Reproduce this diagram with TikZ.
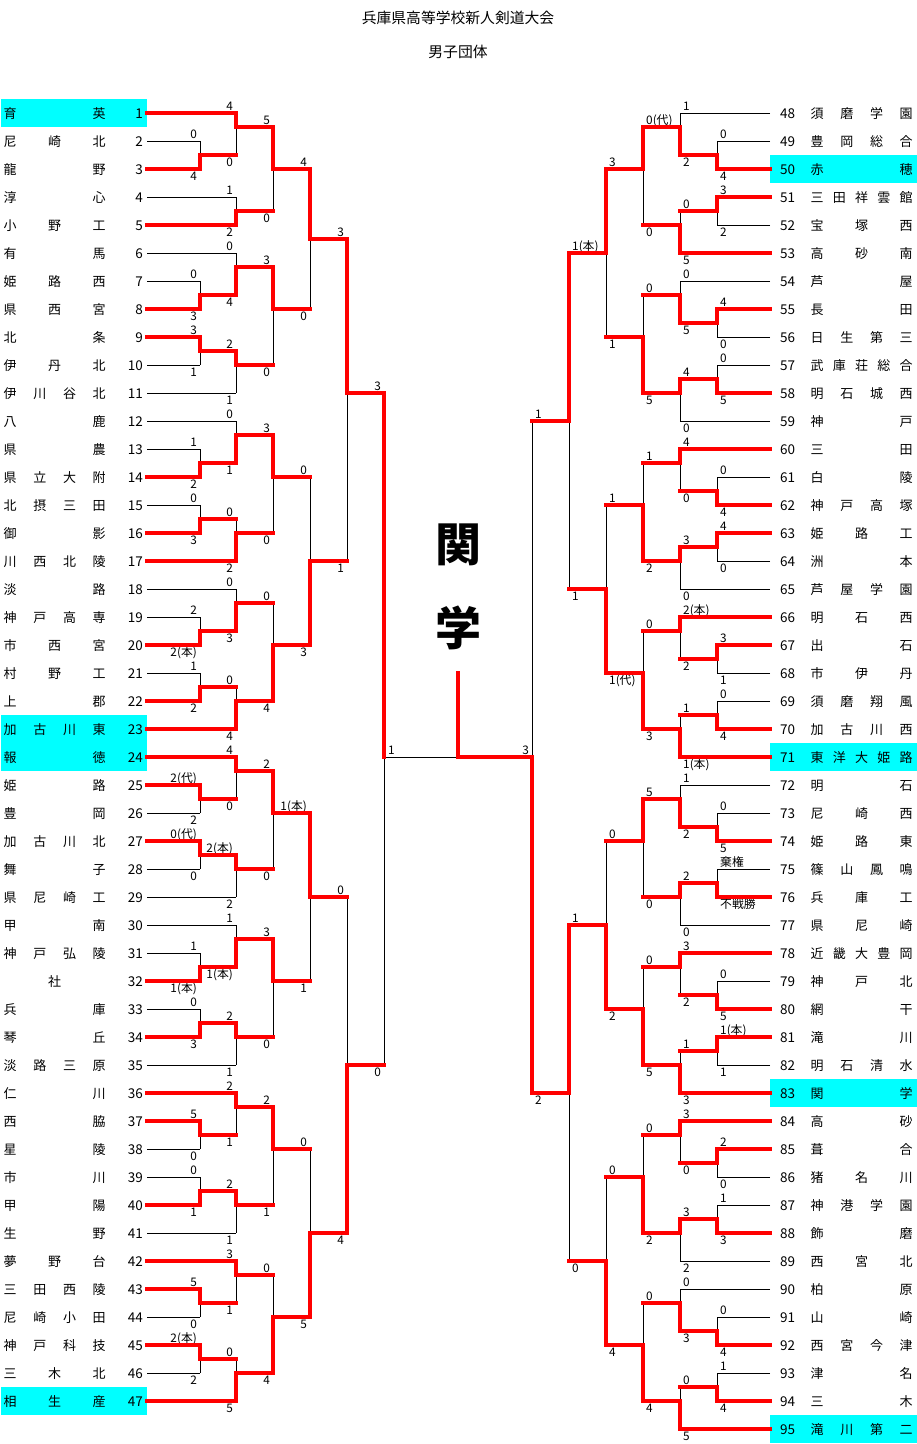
\documentclass[tikz,border=0pt]{standalone}
\usepackage{fontspec}
\setmainfont{Noto Sans CJK JP}
\definecolor{cy}{HTML}{00FFFF}
\tikzset{
  bl/.style={draw=black,line width=1pt},
  rl/.style={draw=red,line width=3.3pt,line cap=rect},
  lab/.style={inner sep=0pt,font=\fontsize{11.8pt}{11.8pt}\selectfont},
  num/.style={inner sep=0pt,font=\fontsize{13.5pt}{13.5pt}\selectfont},
  nm/.style={inner sep=0pt,font=\fontsize{13pt}{13pt}\selectfont},
  ttl/.style={inner sep=0pt,font=\fontsize{14.8pt}{14.8pt}\selectfont},
  big/.style={inner sep=0pt,font=\fontsize{46pt}{46pt}\selectfont\bfseries},
}
\def\mypass{0}
\newcommand\myseg[3]{\ifnum#1=\mypass\relax\ifnum#1=1 \draw[rl] #2 -- #3;\else\draw[bl] #2 -- #3;\fi\fi}
% x, srcU, uU, srcL, uL, junction, winner(0 upper/1 lower), labU, labL
\newcommand\lmatch[9]{%
  \def\mca{1}\def\mcb{1}%
  \ifnum#2=147 \ifnum#7=1 \def\mca{0}\fi\fi
  \ifnum#4=147 \ifnum#7=0 \def\mcb{0}\fi\fi
  \ifnum#7=0 \def\mva{1}\def\mvb{0}\else\def\mva{0}\def\mvb{1}\fi
  \myseg\mca{(#2,{113+14*#3})}{(#1,{113+14*#3})}%
  \myseg\mcb{(#4,{113+14*#5})}{(#1,{113+14*#5})}%
  \myseg\mva{(#1,{113+14*#3})}{(#1,{113+14*#6})}%
  \myseg\mvb{(#1,{113+14*#6})}{(#1,{113+14*#5})}%
  \ifnum\mypass=0
    \node[lab,anchor=base east] at ({#1-3},{113+14*#3-3}) {#8};
    \node[lab,anchor=base east] at ({#1-3},{113+14*#5+11.5}) {#9};
  \fi}
\newcommand\rmatch[9]{%
  \def\mca{1}\def\mcb{1}%
  \ifnum#2=770 \ifnum#7=1 \def\mca{0}\fi\fi
  \ifnum#4=770 \ifnum#7=0 \def\mcb{0}\fi\fi
  \ifnum#7=0 \def\mva{1}\def\mvb{0}\else\def\mva{0}\def\mvb{1}\fi
  \myseg\mca{(#2,{113+14*#3})}{(#1,{113+14*#3})}%
  \myseg\mcb{(#4,{113+14*#5})}{(#1,{113+14*#5})}%
  \myseg\mva{(#1,{113+14*#3})}{(#1,{113+14*#6})}%
  \myseg\mvb{(#1,{113+14*#6})}{(#1,{113+14*#5})}%
  \ifnum\mypass=0
    \node[lab,anchor=base west] at ({#1+3},{113+14*#3-3}) {#8};
    \node[lab,anchor=base west] at ({#1+3},{113+14*#5+11.5}) {#9};
  \fi}
\newcommand\lteam[2]{%
  \node[num,anchor=base east] (n#1) at (143,{113+28*(#1-1)+5}) {#1};
  \node[nm,anchor=base west] (t#1) at (3.5,{113+28*(#1-1)+5}) {\makebox[102pt][s]{#2}};}
\newcommand\rteam[2]{%
  \node[num,anchor=base west] (n#1) at (780,{113+28*(#1-48)+5}) {#1};
  \node[nm,anchor=base west] (t#1) at (810.5,{113+28*(#1-48)+5}) {\makebox[102pt][s]{#2}};}
\newcommand\allmatches{%
\lmatch{200}{147}{2}{147}{4}{3}{1}{0}{4}
\lmatch{236}{147}{0}{200}{3}{1}{0}{4}{0}
\lmatch{236}{147}{6}{147}{8}{7}{1}{1}{2}
\lmatch{273}{236}{1}{236}{7}{4}{0}{5}{0}
\lmatch{200}{147}{12}{147}{14}{13}{1}{0}{3}
\lmatch{236}{147}{10}{200}{13}{11}{1}{0}{4}
\lmatch{200}{147}{16}{147}{18}{17}{0}{3}{1}
\lmatch{236}{200}{17}{147}{20}{18}{0}{2}{1}
\lmatch{273}{236}{11}{236}{18}{14}{0}{3}{0}
\lmatch{310}{273}{4}{273}{14}{9}{0}{4}{0}
\lmatch{200}{147}{24}{147}{26}{25}{1}{1}{2}
\lmatch{236}{147}{22}{200}{25}{23}{1}{0}{1}
\lmatch{200}{147}{28}{147}{30}{29}{1}{0}{3}
\lmatch{236}{200}{29}{147}{32}{30}{1}{0}{2}
\lmatch{273}{236}{23}{236}{30}{26}{0}{3}{0}
\lmatch{200}{147}{36}{147}{38}{37}{1}{2}{2(本)}
\lmatch{236}{147}{34}{200}{37}{35}{1}{0}{3}
\lmatch{200}{147}{40}{147}{42}{41}{1}{1}{2}
\lmatch{236}{200}{41}{147}{44}{42}{1}{0}{4}
\lmatch{273}{236}{35}{236}{42}{38}{1}{0}{4}
\lmatch{310}{273}{26}{273}{38}{32}{1}{0}{3}
\lmatch{347}{310}{9}{310}{32}{20}{0}{3}{1}
\lmatch{200}{147}{48}{147}{50}{49}{0}{2(代)}{2}
\lmatch{236}{147}{46}{200}{49}{47}{0}{4}{0}
\lmatch{200}{147}{52}{147}{54}{53}{0}{0(代)}{0}
\lmatch{236}{200}{53}{147}{56}{54}{0}{2(本)}{2}
\lmatch{273}{236}{47}{236}{54}{50}{0}{2}{0}
\lmatch{200}{147}{60}{147}{62}{61}{1}{1}{1(本)}
\lmatch{236}{147}{58}{200}{61}{59}{1}{1}{1(本)}
\lmatch{200}{147}{64}{147}{66}{65}{1}{0}{3}
\lmatch{236}{200}{65}{147}{68}{66}{0}{2}{1}
\lmatch{273}{236}{59}{236}{66}{62}{0}{3}{0}
\lmatch{310}{273}{50}{273}{62}{56}{0}{1(本)}{1}
\lmatch{200}{147}{72}{147}{74}{73}{0}{5}{0}
\lmatch{236}{147}{70}{200}{73}{71}{0}{2}{1}
\lmatch{200}{147}{76}{147}{78}{77}{1}{0}{1}
\lmatch{236}{200}{77}{147}{80}{78}{0}{2}{1}
\lmatch{273}{236}{71}{236}{78}{74}{0}{2}{1}
\lmatch{200}{147}{84}{147}{86}{85}{0}{5}{0}
\lmatch{236}{147}{82}{200}{85}{83}{0}{3}{1}
\lmatch{200}{147}{88}{147}{90}{89}{0}{2(本)}{2}
\lmatch{236}{200}{89}{147}{92}{90}{1}{0}{5}
\lmatch{273}{236}{83}{236}{90}{86}{1}{0}{4}
\lmatch{310}{273}{74}{273}{86}{80}{1}{0}{5}
\lmatch{347}{310}{56}{310}{80}{68}{1}{0}{4}
\lmatch{384}{347}{20}{347}{68}{46}{0}{3}{0}
\rmatch{717}{770}{2}{770}{4}{3}{1}{0}{4}
\rmatch{680}{770}{0}{717}{3}{1}{1}{1}{2}
\rmatch{717}{770}{6}{770}{8}{7}{0}{3}{2}
\rmatch{680}{717}{7}{770}{10}{8}{1}{0}{5}
\rmatch{643}{680}{1}{680}{8}{4}{0}{0(代)}{0}
\rmatch{717}{770}{14}{770}{16}{15}{0}{4}{0}
\rmatch{680}{770}{12}{717}{15}{13}{1}{0}{5}
\rmatch{717}{770}{18}{770}{20}{19}{1}{0}{5}
\rmatch{680}{717}{19}{770}{22}{20}{0}{4}{0}
\rmatch{643}{680}{13}{680}{20}{16}{1}{0}{5}
\rmatch{606}{643}{4}{643}{16}{10}{0}{3}{1}
\rmatch{717}{770}{26}{770}{28}{27}{1}{0}{4}
\rmatch{680}{770}{24}{717}{27}{25}{0}{4}{0}
\rmatch{717}{770}{30}{770}{32}{31}{0}{4}{0}
\rmatch{680}{717}{31}{770}{34}{32}{0}{3}{0}
\rmatch{643}{680}{25}{680}{32}{28}{1}{1}{2}
\rmatch{717}{770}{38}{770}{40}{39}{0}{3}{1}
\rmatch{680}{770}{36}{717}{39}{37}{0}{2(本)}{2}
\rmatch{717}{770}{42}{770}{44}{43}{1}{0}{4}
\rmatch{680}{717}{43}{770}{46}{44}{1}{1}{1(本)}
\rmatch{643}{680}{37}{680}{44}{40}{1}{0}{3}
\rmatch{606}{643}{28}{643}{40}{34}{1}{1}{1(代)}
\rmatch{569}{606}{10}{606}{34}{22}{0}{1(本)}{1}
\rmatch{717}{770}{50}{770}{52}{51}{1}{0}{5}
\rmatch{680}{770}{48}{717}{51}{49}{1}{1}{2}
\rmatch{717}{770}{54}{770}{56}{55}{1}{棄権}{不戦勝}
\rmatch{680}{717}{55}{770}{58}{56}{0}{2}{0}
\rmatch{643}{680}{49}{680}{56}{52}{0}{5}{0}
\rmatch{717}{770}{62}{770}{64}{63}{1}{0}{5}
\rmatch{680}{770}{60}{717}{63}{61}{0}{3}{2}
\rmatch{717}{770}{66}{770}{68}{67}{0}{1(本)}{1}
\rmatch{680}{717}{67}{770}{70}{68}{1}{1}{3}
\rmatch{643}{680}{61}{680}{68}{64}{1}{0}{5}
\rmatch{606}{643}{52}{643}{64}{58}{1}{0}{2}
\rmatch{717}{770}{74}{770}{76}{75}{0}{2}{0}
\rmatch{680}{770}{72}{717}{75}{73}{0}{3}{0}
\rmatch{717}{770}{78}{770}{80}{79}{1}{1}{3}
\rmatch{680}{717}{79}{770}{82}{80}{0}{3}{2}
\rmatch{643}{680}{73}{680}{80}{76}{1}{0}{2}
\rmatch{717}{770}{86}{770}{88}{87}{1}{0}{4}
\rmatch{680}{770}{84}{717}{87}{85}{1}{0}{3}
\rmatch{717}{770}{90}{770}{92}{91}{1}{1}{4}
\rmatch{680}{717}{91}{770}{94}{92}{1}{0}{5}
\rmatch{643}{680}{85}{680}{92}{88}{1}{0}{4}
\rmatch{606}{643}{76}{643}{88}{82}{1}{0}{4}
\rmatch{569}{606}{58}{606}{82}{70}{0}{1}{0}
\rmatch{532}{569}{22}{569}{70}{46}{1}{1}{2}
}
\begin{document}
\begin{tikzpicture}[x=1pt,y=-1pt]
\useasboundingbox (0,0) rectangle (917,1444);
\fill[white] (0,0) rectangle (917,1444);
\foreach \i in {1,23,24,47} \fill[cy] (1,{113+28*(\i-1)-14}) rectangle (147,{113+28*(\i-1)+14});
\foreach \i in {50,71,83,95} \fill[cy] (770,{113+28*(\i-48)-14}) rectangle (917,{113+28*(\i-48)+14});
\node[ttl] (title) at (458,18) {兵庫県高等学校新人剣道大会};
\node[ttl] (sub) at (458,52) {男子団体};
\lteam{1}{育\hfil 英}
\lteam{2}{尼\hfil 崎\hfil 北}
\lteam{3}{龍\hfil 野}
\lteam{4}{淳\hfil 心}
\lteam{5}{小\hfil 野\hfil 工}
\lteam{6}{有\hfil 馬}
\lteam{7}{姫\hfil 路\hfil 西}
\lteam{8}{県\hfil 西\hfil 宮}
\lteam{9}{北\hfil 条}
\lteam{10}{伊\hfil 丹\hfil 北}
\lteam{11}{伊\hfil 川\hfil 谷\hfil 北}
\lteam{12}{八\hfil 鹿}
\lteam{13}{県\hfil 農}
\lteam{14}{県\hfil 立\hfil 大\hfil 附}
\lteam{15}{北\hfil 摂\hfil 三\hfil 田}
\lteam{16}{御\hfil 影}
\lteam{17}{川\hfil 西\hfil 北\hfil 陵}
\lteam{18}{淡\hfil 路}
\lteam{19}{神\hfil 戸\hfil 高\hfil 専}
\lteam{20}{市\hfil 西\hfil 宮}
\lteam{21}{村\hfil 野\hfil 工}
\lteam{22}{上\hfil 郡}
\lteam{23}{加\hfil 古\hfil 川\hfil 東}
\lteam{24}{報\hfil 徳}
\lteam{25}{姫\hfil 路}
\lteam{26}{豊\hfil 岡}
\lteam{27}{加\hfil 古\hfil 川\hfil 北}
\lteam{28}{舞\hfil 子}
\lteam{29}{県\hfil 尼\hfil 崎\hfil 工}
\lteam{30}{甲\hfil 南}
\lteam{31}{神\hfil 戸\hfil 弘\hfil 陵}
\lteam{32}{\hfil 社\hfil}
\lteam{33}{兵\hfil 庫}
\lteam{34}{琴\hfil 丘}
\lteam{35}{淡\hfil 路\hfil 三\hfil 原}
\lteam{36}{仁\hfil 川}
\lteam{37}{西\hfil 脇}
\lteam{38}{星\hfil 陵}
\lteam{39}{市\hfil 川}
\lteam{40}{甲\hfil 陽}
\lteam{41}{生\hfil 野}
\lteam{42}{夢\hfil 野\hfil 台}
\lteam{43}{三\hfil 田\hfil 西\hfil 陵}
\lteam{44}{尼\hfil 崎\hfil 小\hfil 田}
\lteam{45}{神\hfil 戸\hfil 科\hfil 技}
\lteam{46}{三\hfil 木\hfil 北}
\lteam{47}{相\hfil 生\hfil 産}
\rteam{48}{須\hfil 磨\hfil 学\hfil 園}
\rteam{49}{豊\hfil 岡\hfil 総\hfil 合}
\rteam{50}{赤\hfil 穂}
\rteam{51}{三\hfil 田\hfil 祥\hfil 雲\hfil 館}
\rteam{52}{宝\hfil 塚\hfil 西}
\rteam{53}{高\hfil 砂\hfil 南}
\rteam{54}{芦\hfil 屋}
\rteam{55}{長\hfil 田}
\rteam{56}{日\hfil 生\hfil 第\hfil 三}
\rteam{57}{武\hfil 庫\hfil 荘\hfil 総\hfil 合}
\rteam{58}{明\hfil 石\hfil 城\hfil 西}
\rteam{59}{神\hfil 戸}
\rteam{60}{三\hfil 田}
\rteam{61}{白\hfil 陵}
\rteam{62}{神\hfil 戸\hfil 高\hfil 塚}
\rteam{63}{姫\hfil 路\hfil 工}
\rteam{64}{洲\hfil 本}
\rteam{65}{芦\hfil 屋\hfil 学\hfil 園}
\rteam{66}{明\hfil 石\hfil 西}
\rteam{67}{出\hfil 石}
\rteam{68}{市\hfil 伊\hfil 丹}
\rteam{69}{須\hfil 磨\hfil 翔\hfil 風}
\rteam{70}{加\hfil 古\hfil 川\hfil 西}
\rteam{71}{東\hfil 洋\hfil 大\hfil 姫\hfil 路}
\rteam{72}{明\hfil 石}
\rteam{73}{尼\hfil 崎\hfil 西}
\rteam{74}{姫\hfil 路\hfil 東}
\rteam{75}{篠\hfil 山\hfil 鳳\hfil 鳴}
\rteam{76}{兵\hfil 庫\hfil 工}
\rteam{77}{県\hfil 尼\hfil 崎}
\rteam{78}{近\hfil 畿\hfil 大\hfil 豊\hfil 岡}
\rteam{79}{神\hfil 戸\hfil 北}
\rteam{80}{網\hfil 干}
\rteam{81}{滝\hfil 川}
\rteam{82}{明\hfil 石\hfil 清\hfil 水}
\rteam{83}{関\hfil 学}
\rteam{84}{高\hfil 砂}
\rteam{85}{葺\hfil 合}
\rteam{86}{猪\hfil 名\hfil 川}
\rteam{87}{神\hfil 港\hfil 学\hfil 園}
\rteam{88}{飾\hfil 磨}
\rteam{89}{西\hfil 宮\hfil 北}
\rteam{90}{柏\hfil 原}
\rteam{91}{山\hfil 崎}
\rteam{92}{西\hfil 宮\hfil 今\hfil 津}
\rteam{93}{津\hfil 名}
\rteam{94}{三\hfil 木}
\rteam{95}{滝\hfil 川\hfil 第\hfil 二}
\def\mypass{0}\allmatches
\coordinate (cl) at (384,757);
\coordinate (cm) at (458,757);
\coordinate (cr) at (532,757);
\coordinate (ct) at (458,673);
\draw[bl] (cl) -- (cm);
\def\mypass{1}\allmatches
\draw[rl] (cr) -- (cm) -- (ct);
\node[lab,anchor=base west] (fl) at (388,754) {1};
\node[lab,anchor=base east] (fr) at (529,754) {3};
\node[big] (c1) at (458,545) {関};
\node[big] (c2) at (458,628) {学};
\end{tikzpicture}
\end{document}
